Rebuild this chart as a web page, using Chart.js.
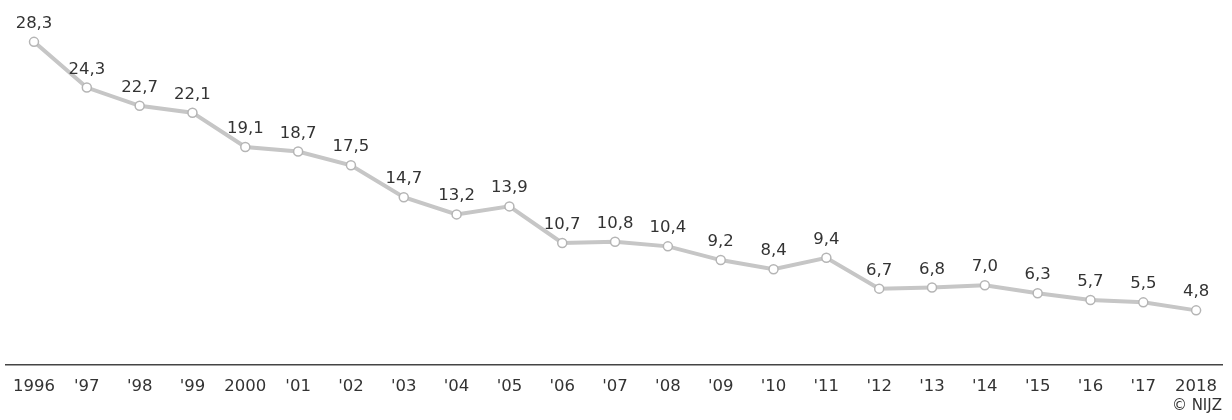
<!DOCTYPE html>
<html>
<head>
<meta charset="utf-8">
<script src="https://cdn.jsdelivr.net/npm/chart.js@4/dist/chart.umd.min.js"></script>
<style>
  html, body { margin: 0; padding: 0; background: #fff; }
  #wrap { position: relative; width: 1232px; height: 420px; }
  #credit { position: absolute; right: 10px; top: 396px; font: 15px "DejaVu Sans", sans-serif; color: #333; }
</style>
</head>
<body>
<div id="wrap">
  <canvas id="chart"></canvas>
  <div id="credit">© NIJZ</div>
</div>
<script>
const years = ['1996', "'97", "'98", "'99", '2000', "'01", "'02", "'03", "'04", "'05", "'06",
  "'07", "'08", "'09", "'10", "'11", "'12", "'13", "'14", "'15", "'16", "'17", '2018'];
const rates = [28.3, 24.3, 22.7, 22.1, 19.1, 18.7, 17.5, 14.7, 13.2, 13.9, 10.7,
  10.8, 10.4, 9.2, 8.4, 9.4, 6.7, 6.8, 7.0, 6.3, 5.7, 5.5, 4.8];

const fmt = v => v.toFixed(1).replace('.', ',');

// value labels above each point
const pointLabels = {
    id: 'pointLabels',
    afterDatasetsDraw(chart) {
        const ctx = chart.ctx;
        const meta = chart.getDatasetMeta(0);
        ctx.save();
        ctx.font = '16.5px "DejaVu Sans", sans-serif';
        ctx.fillStyle = '#333';
        ctx.textAlign = 'center';
        ctx.textBaseline = 'alphabetic';
        meta.data.forEach((pt, i) => {
            ctx.fillText(fmt(rates[i]), pt.x, pt.y - 14);
        });
        ctx.restore();
    }
};

const ctx = document.getElementById('chart').getContext('2d');
new Chart(ctx, {
    type: 'line',
    data: {
        datasets: [{
            data: rates.map((v, i) => ({ x: i, y: v })),
            borderColor: '#c6c6c6',
            borderWidth: 4,
            pointRadius: 4.5,
            pointBorderWidth: 1.5,
            pointBackgroundColor: '#fff',
            pointBorderColor: '#b5b5b5',
            tension: 0,
        }]
    },
    options: {
        responsive: true,
        maintainAspectRatio: false,
        animation: false,
        layout: { padding: { left: 5, right: 10, top: 11, bottom: 19 } },
        plugins: { legend: { display: false }, tooltip: { enabled: false } },
        scales: {
            x: {
                type: 'linear',
                min: -0.53,
                max: 22.49,
                grid: { display: false },
                border: { display: true, color: '#444', width: 1.5 },
                // one tick per year
                afterBuildTicks: axis => { axis.ticks = years.map((_, i) => ({ value: i })); },
                ticks: {
                    autoSkip: false,
                    maxRotation: 0,
                    padding: 4,
                    color: '#333',
                    font: { family: '"DejaVu Sans", sans-serif', size: 16.5 },
                    callback: v => years[v]
                }
            },
            y: { display: false, min: 0, max: 31 }
        }
    },
    plugins: [pointLabels]
});
</script>
</body>
</html>
